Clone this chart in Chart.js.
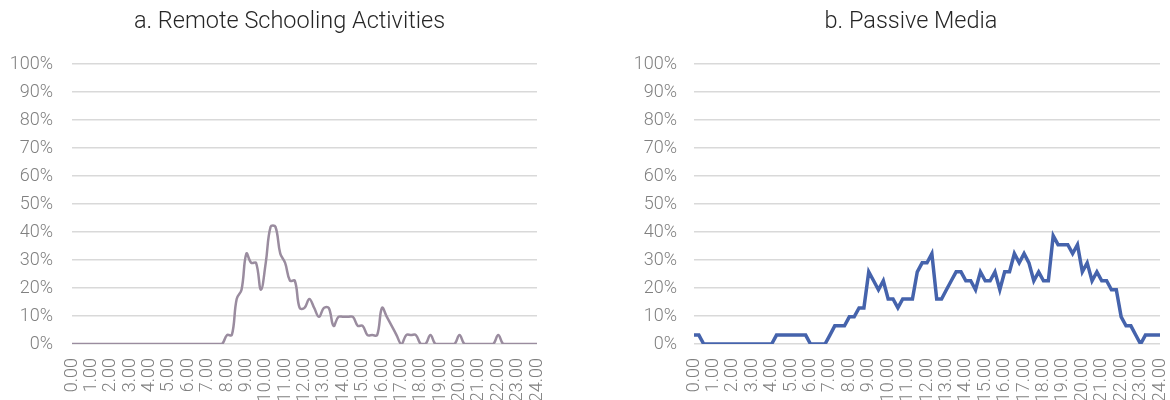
<!DOCTYPE html>
<html>
<head>
<meta charset="utf-8">
<script src="https://cdn.jsdelivr.net/npm/chart.js@4.4.1/dist/chart.umd.min.js"></script>
<style>
  body { margin: 0; background: #fff; overflow: hidden; width: 1170px; height: 400px; position: relative; }
  #left { position: absolute; left: 0; top: 0; }
  #right { position: absolute; left: 600px; top: 0; }
</style>
</head>
<body>
<canvas id="left" width="579" height="430"></canvas>
<canvas id="right" width="622" height="430"></canvas>
<script>
// hour labels shown on the axis, data is every 15 minutes
var hours = ['0.00','1.00','2.00','3.00','4.00','5.00','6.00','7.00','8.00','9.00','10.00','11.00','12.00',
             '13.00','14.00','15.00','16.00','17.00','18.00','19.00','20.00','21.00','22.00','23.00','24.00'];
var quarters = ['00','15','30','45'];

// % of respondents, a. Remote Schooling Activities
var schooling = [0,0,0,0, 0,0,0,0, 0,0,0,0, 0,0,0,0, 0,0,0,0, 0,0,0,0, 0,0,0,0, 0,0,0,0,
                 3.2,3.2,16.1,19.4, 32.3,29.0,29.0,19.4, 29.0,41.9,41.9,32.3, 29.0,22.6,22.6,12.9,
                 12.9,16.1,12.9,9.7, 12.9,12.9,6.5,9.7, 9.7,9.7,9.7,6.5, 6.5,3.2,3.2,3.2,
                 12.9,9.7,6.5,3.2, 0,3.2,3.2,3.2, 0,0,3.2,0, 0,0,0,0,
                 3.2,0,0,0, 0,0,0,0, 3.2,0,0,0, 0,0,0,0, 0];

// % of respondents, b. Passive Media
var passive = [3.2,3.2,0,0, 0,0,0,0, 0,0,0,0, 0,0,0,0, 0,3.2,3.2,3.2, 3.2,3.2,3.2,3.2, 0,0,0,0,
               3.2,6.5,6.5,6.5, 9.7,9.7,12.9,12.9, 25.8,22.6,19.4,22.6, 16.1,16.1,12.9,16.1,
               16.1,16.1,25.8,29.0, 29.0,32.3,16.1,16.1, 19.4,22.6,25.8,25.8, 22.6,22.6,19.4,25.8,
               22.6,22.6,25.8,19.4, 25.8,25.8,32.3,29.0, 32.3,29.0,22.6,25.8, 22.6,22.6,38.7,35.5,
               35.5,35.5,32.3,35.5, 25.8,29.0,22.6,25.8, 22.6,22.6,19.4,19.4, 9.7,6.5,6.5,3.2,
               0,3.2,3.2,3.2, 3.2];

var times = [];
for (var h = 0; h < hours.length; h++) {
  for (var q = 0; q < 4; q++) {
    if (h == hours.length - 1 && q > 0) break;
    times.push(q == 0 ? hours[h] : h + '.' + quarters[q]);
  }
}

var tickFont = { family: 'Roboto', size: 18, weight: '300' };
var tickColor = '#808080';

// axisW = width of the % axis, spaceR = empty room right of the plot
function makeChart(id, title, values, color, width, tension, axisW, labelPad, spaceR) {
  return new Chart(document.getElementById(id), {
    type: 'line',
    data: {
      labels: times,
      datasets: [{
        data: values,
        borderColor: color,
        borderWidth: width,
        tension: tension,
        pointRadius: 0,
        fill: false
      }]
    },
    options: {
      responsive: false,
      animation: false,
      layout: { padding: 0 },
      plugins: {
        legend: { display: false },
        tooltip: { enabled: false },
        title: {
          display: true,
          text: title,
          color: '#262626',
          font: { family: 'Roboto', size: 23.5, weight: '300' },
          padding: { top: 8, bottom: 28 }
        }
      },
      scales: {
        x: {
          offset: false,
          grid: { display: false },
          border: { display: false },
          ticks: {
            autoSkip: false,
            minRotation: 90,
            maxRotation: 90,
            padding: 6,
            color: tickColor,
            font: tickFont,
            callback: function(v, i) { return i % 4 == 0 ? this.getLabelForValue(v) : ''; }
          },
          afterFit: function(s) { s.height = 86; }
        },
        y: {
          min: 0,
          max: 100,
          grid: { color: '#d9d9d9', lineWidth: 1.5, drawTicks: false },
          border: { display: false },
          ticks: {
            stepSize: 10,
            padding: labelPad,
            color: tickColor,
            font: tickFont,
            callback: function(v) { return v + '%'; }
          },
          afterFit: function(s) { s.width = axisW; }
        },
        spacer: {
          position: 'right',
          grid: { display: false },
          border: { display: false },
          ticks: { display: false },
          afterFit: function(s) { s.width = spaceR; }
        }
      }
    }
  });
}

makeChart('left', 'a. Remote Schooling Activities', schooling, '#9a8c9f', 2.5, 0.4, 72, 19, 42);
makeChart('right', 'b. Passive Media', passive, '#4563ac', 3.5, 0, 94, 17, 62);
</script>
</body>
</html>
